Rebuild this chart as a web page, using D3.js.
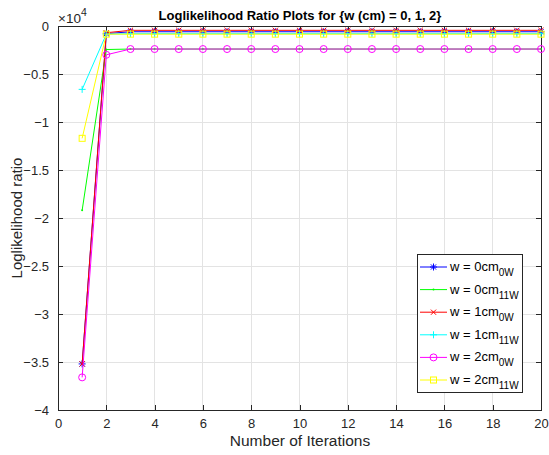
<!DOCTYPE html>
<html>
<head>
<meta charset="utf-8">
<script src="https://cdn.jsdelivr.net/npm/d3@7"></script>
<style>
  body { margin: 0; background: #fff; }
  svg { font-family: "Liberation Sans", Arial, Helvetica, sans-serif; }
</style>
</head>
<body>
<svg id="chart" width="549" height="455"></svg>
<script>
// ---- data (values in raw units; axis shows ×10^4) ----
const iterations = d3.range(1, 21);
const seriesNames = ["0cm", "0cm", "1cm", "1cm", "2cm", "2cm"];
const seriesSubs = ["0W", "11W", "0W", "11W", "0W", "11W"];
const seriesColors = ["#0000ff", "#00ff00", "#ff0000", "#00ffff", "#ff00ff", "#ffff00"];
const seriesMarkers = ["star", "dot", "x", "plus", "circle", "square"];

const blue0w   = [-35200, -800, -600, -600, -600, -600, -600, -600, -600, -600, -600, -600, -600, -600, -600, -600, -600, -600, -600, -600];
const green11w = [-19200, -2450, -2400, -2400, -2400, -2400, -2400, -2400, -2400, -2400, -2400, -2400, -2400, -2400, -2400, -2400, -2400, -2400, -2400, -2400];
const red0w    = [-35200, -700, -450, -450, -450, -450, -450, -450, -450, -450, -450, -450, -450, -450, -450, -450, -450, -450, -450, -450];
const cyan11w  = [-6600, -850, -800, -800, -800, -800, -800, -800, -800, -800, -800, -800, -800, -800, -800, -800, -800, -800, -800, -800];
const mag0w    = [-36600, -3000, -2400, -2400, -2400, -2400, -2400, -2400, -2400, -2400, -2400, -2400, -2400, -2400, -2400, -2400, -2400, -2400, -2400, -2400];
const yel11w   = [-11700, -850, -850, -850, -850, -850, -850, -850, -850, -850, -850, -850, -850, -850, -850, -850, -850, -850, -850, -850];
const seriesValues = [blue0w, green11w, red0w, cyan11w, mag0w, yel11w];

const xTicks = d3.range(0, 21, 2);
const yTicks = [0, -5000, -10000, -15000, -20000, -25000, -30000, -35000, -40000];

// ---- layout ----
const L = 58, R = 541, T = 26, B = 410;
const svg = d3.select("#chart");
const x = d3.scaleLinear().domain([0, 20]).range([L, R]);
const y = d3.scaleLinear().domain([-40000, 0]).range([B, T]);
const axisColor = "#262626";

// grid
const grid = svg.append("g");
grid.selectAll(".gx").data(xTicks).enter().append("line")
  .attr("x1", d => x(d)).attr("x2", d => x(d)).attr("y1", T).attr("y2", B)
  .attr("stroke", "#e3e3e3").attr("stroke-width", 1).attr("shape-rendering", "crispEdges");
grid.selectAll(".gy").data(yTicks).enter().append("line")
  .attr("y1", d => y(d)).attr("y2", d => y(d)).attr("x1", L).attr("x2", R)
  .attr("stroke", "#e3e3e3").attr("stroke-width", 1).attr("shape-rendering", "crispEdges");

// axes
const fmtY = d => d3.format("")(d / 10000);
const gxB = svg.append("g").attr("transform", `translate(0,${B})`)
  .call(d3.axisBottom(x).tickValues(xTicks).tickSize(-5).tickPadding(9));
const gxT = svg.append("g").attr("transform", `translate(0,${T})`)
  .call(d3.axisTop(x).tickValues(xTicks).tickSize(-5).tickFormat(""));
const gyL = svg.append("g").attr("transform", `translate(${L},0)`)
  .call(d3.axisLeft(y).tickValues(yTicks).tickSize(-5).tickPadding(9).tickFormat(fmtY));
const gyR = svg.append("g").attr("transform", `translate(${R},0)`)
  .call(d3.axisRight(y).tickValues(yTicks).tickSize(-5).tickFormat(""));
[gxB, gxT, gyL, gyR].forEach(g => {
  g.select(".domain").attr("stroke", axisColor).attr("shape-rendering", "crispEdges");
  g.selectAll(".tick line").attr("stroke", axisColor).attr("shape-rendering", "crispEdges");
  g.selectAll(".tick text").attr("fill", axisColor).attr("font-size", 13)
    .attr("font-family", "'Liberation Sans', Arial, sans-serif");
});

// marker drawing
function drawMarker(g, type, color, cx, cy) {
  const s = 3.5;
  if (type === "circle") {
    g.append("circle").attr("cx", cx).attr("cy", cy).attr("r", s)
      .attr("fill", "none").attr("stroke", color).attr("stroke-width", 1);
  } else if (type === "square") {
    g.append("rect").attr("x", cx - 3).attr("y", cy - 3).attr("width", 6).attr("height", 6)
      .attr("fill", "none").attr("stroke", color).attr("stroke-width", 1);
  } else if (type === "plus") {
    g.append("path").attr("d", `M${cx - s},${cy}H${cx + s}M${cx},${cy - s}V${cy + s}`)
      .attr("stroke", color).attr("stroke-width", 1).attr("fill", "none");
  } else if (type === "x") {
    const k = 2.6;
    g.append("path").attr("d", `M${cx - k},${cy - k}L${cx + k},${cy + k}M${cx - k},${cy + k}L${cx + k},${cy - k}`)
      .attr("stroke", color).attr("stroke-width", 1).attr("fill", "none");
  } else if (type === "star") {
    const k = 2.6;
    g.append("path").attr("d", `M${cx - s},${cy}H${cx + s}M${cx},${cy - s}V${cy + s}M${cx - k},${cy - k}L${cx + k},${cy + k}M${cx - k},${cy + k}L${cx + k},${cy - k}`)
      .attr("stroke", color).attr("stroke-width", 1).attr("fill", "none");
  } else if (type === "dot") {
    g.append("circle").attr("cx", cx).attr("cy", cy).attr("r", 1)
      .attr("fill", color);
  }
}

// series
const line = d3.line().x((d, i) => x(iterations[i])).y(d => y(d));
seriesValues.forEach((vals, si) => {
  const g = svg.append("g");
  g.append("path").datum(vals).attr("d", line)
    .attr("fill", "none").attr("stroke", seriesColors[si]).attr("stroke-width", 1);
  vals.forEach((v, i) => drawMarker(g, seriesMarkers[si], seriesColors[si], x(iterations[i]), y(v)));
});

// title
svg.append("text").attr("x", 300).attr("y", 19.5).attr("text-anchor", "middle")
  .attr("font-size", 13).attr("font-weight", "bold").attr("fill", "#000")
  .text("Loglikelihood Ratio Plots for {w (cm) = 0, 1, 2}");

// exponent
const ex = svg.append("text").attr("x", 58).attr("y", 23).attr("fill", axisColor).attr("font-size", 13.5);
ex.append("tspan").text("×10");
ex.append("tspan").attr("font-size", 10.5).attr("dy", -7).text("4");

// axis labels
svg.append("text").attr("x", 300).attr("y", 446).attr("text-anchor", "middle")
  .attr("font-size", 15.5).attr("fill", axisColor).text("Number of Iterations");
svg.append("text").attr("transform", `translate(22,218) rotate(-90)`).attr("text-anchor", "middle")
  .attr("font-size", 15).attr("fill", axisColor).text("Loglikelihood ratio");

// legend
const lg = svg.append("g");
const LX = 417, LY = 254, LW = 105, LH = 138;
lg.append("rect").attr("x", LX).attr("y", LY).attr("width", LW).attr("height", LH)
  .attr("fill", "#fff").attr("stroke", axisColor).attr("stroke-width", 1).attr("shape-rendering", "crispEdges");
seriesValues.forEach((vals, si) => {
  const cy = LY + 13 + si * 22.6;
  lg.append("line").attr("x1", LX + 3).attr("x2", LX + 30).attr("y1", cy).attr("y2", cy)
    .attr("stroke", seriesColors[si]).attr("stroke-width", 1);
  drawMarker(lg, seriesMarkers[si], seriesColors[si], LX + 16.5, cy);
  const t = lg.append("text").attr("x", LX + 33).attr("y", cy + 4).attr("font-size", 13).attr("fill", "#000");
  t.append("tspan").text("w = " + seriesNames[si]);
  t.append("tspan").attr("font-size", 10).attr("dy", 5).text(seriesSubs[si]);
});
</script>
</body>
</html>
